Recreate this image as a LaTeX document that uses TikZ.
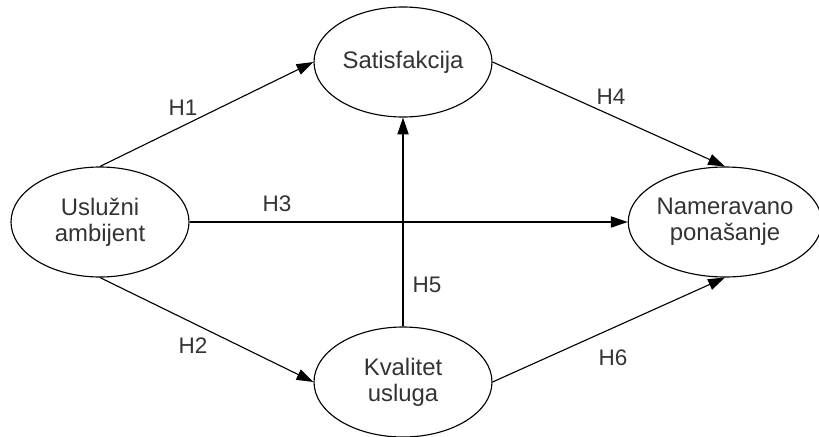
\documentclass[tikz,border=0pt]{standalone}
\usepackage{fontspec}
\setmainfont{Liberation Sans}
\usetikzlibrary{shapes.geometric,arrows.meta}

\begin{document}
\begin{tikzpicture}[
  construct/.style={ellipse,draw,line width=0.8pt,minimum width=4.45cm,minimum height=2.75cm,
    inner sep=0pt,align=center,text=black!80,font=\fontsize{17}{18.5}\selectfont},
  hypo/.style={-{Triangle[length=12pt,width=8pt]},line width=0.8pt},
  hlabel/.style={text=black!80,font=\fontsize{16}{18}\selectfont}]
\useasboundingbox (0,0) rectangle (20.475,10.9);
%Left node
  \node[construct] (A) at (2.5,5.35) {Uslužni\\ambijent};
%Top node
  \node[construct] (S) at (10.075,9.35) {Satisfakcija};
%Bottom node
  \node[construct] (K) at (10.075,1.35) {Kvalitet\\usluga};
%Right node
  \node[construct,minimum width=4.55cm] (N) at (18.125,5.35) {Nameravano\\ponašanje};
% paths
  \draw[hypo] (A.north) -- (S.west);
  \draw[hypo] (A.south) -- (K.west);
  \draw[hypo] (A.east) -- (N.west);
  \draw[hypo] (S.east) -- (N.north);
  \draw[hypo] (K.north) -- (S.south);
  \draw[hypo] (K.east) -- (N.south);
% labels
  \node[hlabel] (h1) at (4.575,8.2) {H1};
  \node[hlabel] (h2) at (4.825,2.25) {H2};
  \node[hlabel] (h3) at (6.925,5.8) {H3};
  \node[hlabel] (h4) at (15.275,8.475) {H4};
  \node[hlabel] (h5) at (10.675,3.775) {H5};
  \node[hlabel] (h6) at (15.325,1.95) {H6};
\end{tikzpicture}
\end{document}
